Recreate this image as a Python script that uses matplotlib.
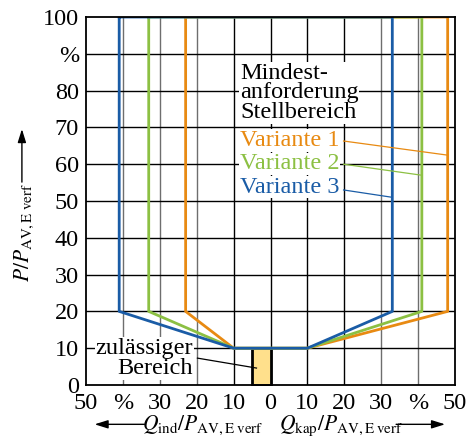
import matplotlib
matplotlib.use("Agg")
import matplotlib.pyplot as plt

plt.rcParams['font.family'] = ['Liberation Serif', 'DejaVu Serif']
plt.rcParams['mathtext.fontset'] = 'stix'

# boundary of each variant: Q (negative = inductive), P in %
var1_q = [-23, -23, -10, 10, 48, 48, -23]
var1_p = [100, 20, 10, 10, 20, 100, 100]
var2_q = [-33, -33, -10, 10, 41, 41, -33]
var2_p = [100, 20, 10, 10, 20, 100, 100]
var3_q = [-41, -41, -10, 10, 33, 33, -41]
var3_p = [100, 20, 10, 10, 20, 100, 100]

# allowed region (small rectangle)
zul_q = [-5, 0]
zul_p = [0, 10]

x_ticks = [-50, -40, -30, -20, -10, 0, 10, 20, 30, 40, 50]
x_labels = ['50', '%', '30', '20', '10', '0', '10', '20', '30', '%', '50']
y_ticks = [0, 10, 20, 30, 40, 50, 60, 70, 80, 90, 100]
y_labels = ['0', '10', '20', '30', '40', '50', '60', '70', '80', '%', '100']

c_orange = '#E88A12'
c_green = '#8CC043'
c_blue = '#1A5CA6'

fs = 17.5

fig = plt.figure(figsize=(4.66, 4.42), dpi=100)
ax = fig.add_axes([0.1845, 0.129, 0.792, 0.8325])
ax.set_xlim(-50, 50)
ax.set_ylim(0, 100)

# grid
for xv in x_ticks[1:-1]:
    col = '#6e6e6e' if xv in (-40, -30, -20, 30, 40) else 'black'
    ax.axvline(xv, color=col, lw=1.0, zorder=1)
for yv in y_ticks[1:-1]:
    ax.axhline(yv, color='black', lw=1.0, zorder=1)

ax.fill_between(zul_q, zul_p[0], zul_p[1], facecolor='#FFE08C', edgecolor='black',
                lw=2.0, zorder=3)

ax.plot(var1_q, var1_p, color=c_orange, lw=2.0, zorder=4)
ax.plot(var2_q, var2_p, color=c_green, lw=2.0, zorder=5)
ax.plot(var3_q, var3_p, color=c_blue, lw=2.0, zorder=6)

for s in ax.spines.values():
    s.set_linewidth(1.3)
    s.set_zorder(7)

ax.set_xticks(x_ticks)
ax.set_xticklabels(x_labels, fontsize=fs)
ax.set_yticks(y_ticks)
ax.set_yticklabels(y_labels, fontsize=fs)
ax.tick_params(axis='x', length=0, pad=6)
ax.tick_params(axis='y', length=0, pad=5)

bb = dict(facecolor='white', edgecolor='none', pad=0.5)

ax.text(-8.3, 79.4, 'Mindest-\nanforderung\nStellbereich', fontsize=fs, ha='left',
        va='center', linespacing=0.92, bbox=bb, zorder=8)
ax.text(-8.3, 66.4, 'Variante 1', color=c_orange, fontsize=fs, ha='left', va='center',
        bbox=bb, zorder=8)
ax.text(-8.3, 60.1, 'Variante 2', color=c_green, fontsize=fs, ha='left', va='center',
        bbox=bb, zorder=8)
ax.text(-8.3, 53.8, 'Variante 3', color=c_blue, fontsize=fs, ha='left', va='center',
        bbox=bb, zorder=8)
ax.plot([19.8, 47.7], [66.3, 62.5], color=c_orange, lw=0.9, zorder=8)
ax.plot([19.8, 41.0], [60.0, 57.0], color=c_green, lw=0.9, zorder=8)
ax.plot([19.8, 33.0], [53.0, 51.0], color=c_blue, lw=0.9, zorder=8)

ax.text(-21.0, 7.2, 'zulässiger\nBereich', fontsize=fs, ha='right', va='center',
        multialignment='right', linespacing=0.92, bbox=bb, zorder=8)
ax.plot([-19.8, -3.8], [7.3, 4.6], color='black', lw=0.9, zorder=8)

# axis titles with arrows
fig.text(0.052, 0.474, r'$P/P_{\mathrm{AV,E\;verf}}$', rotation=90, fontsize=15.5,
         ha='center', va='center')
ax.annotate('', xy=(0.047, 0.708), xycoords='figure fraction',
            xytext=(0.047, 0.588), textcoords='figure fraction',
            arrowprops=dict(arrowstyle='-|>,head_length=0.8,head_width=0.25',
                            color='black', lw=1.0, shrinkA=0, shrinkB=0))

fig.text(0.305, 0.027, r'$Q_{\mathrm{ind}}/P_{\mathrm{AV,E\;verf}}$', fontsize=15.5,
         ha='left', va='baseline')
ax.annotate('', xy=(0.203, 0.04), xycoords='figure fraction',
            xytext=(0.31, 0.04), textcoords='figure fraction',
            arrowprops=dict(arrowstyle='-|>,head_length=0.8,head_width=0.25',
                            color='black', lw=1.0, shrinkA=0, shrinkB=0))
fig.text(0.599, 0.027, r'$Q_{\mathrm{kap}}/P_{\mathrm{AV,E\;verf}}$', fontsize=15.5,
         ha='left', va='baseline')
ax.annotate('', xy=(0.955, 0.04), xycoords='figure fraction',
            xytext=(0.85, 0.04), textcoords='figure fraction',
            arrowprops=dict(arrowstyle='-|>,head_length=0.8,head_width=0.25',
                            color='black', lw=1.0, shrinkA=0, shrinkB=0))

fig.savefig('out.png', dpi=100)
